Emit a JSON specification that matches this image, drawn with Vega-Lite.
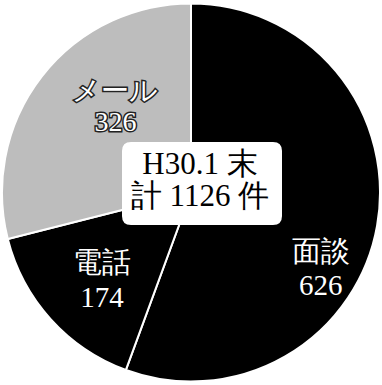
{
  "$schema": "https://vega.github.io/schema/vega-lite/v6.json",
  "width": 382,
  "height": 385,
  "autosize": {"type": "none"},
  "padding": 0,
  "background": "white",
  "view": {"stroke": null},
  "datasets": {
    "slices": [
      {"category": "面談", "value": 626, "label": "面談\n626", "n": 1},
      {"category": "電話", "value": 174, "label": "電話\n174", "n": 2},
      {"category": "メール", "value": 326, "label": "メール\n326", "n": 3}
    ],
    "center": [
      {"title": "H30.1 末\n計 1126 件"}
    ]
  },
  "layer": [
    {
      "data": {"name": "slices"},
      "mark": {"type": "arc", "outerRadius": 189, "stroke": "white", "strokeWidth": 2},
      "encoding": {
        "theta": {"field": "value", "type": "quantitative", "stack": true},
        "order": {"field": "n", "type": "quantitative"},
        "color": {
          "field": "category",
          "type": "nominal",
          "scale": {"domain": ["面談", "電話", "メール"], "range": ["#000000", "#000000", "#bdbdbd"]},
          "legend": null
        }
      }
    },
    {
      "data": {"name": "slices"},
      "mark": {"type": "text", "radius": 143, "dx": -11, "dy": 34, "font": "Liberation Serif", "fontSize": 29, "lineHeight": 34, "lineBreak": "\n", "fill": "white", "align": "center", "baseline": "middle"},
      "encoding": {
        "theta": {"field": "value", "type": "quantitative", "stack": true},
        "order": {"field": "n", "type": "quantitative"},
        "text": {"condition": {"test": "datum.category === '面談'", "field": "label", "type": "nominal"}, "value": ""}
      }
    },
    {
      "data": {"name": "slices"},
      "mark": {"type": "text", "radius": 124, "dx": 3, "dy": -13, "font": "Liberation Serif", "fontSize": 29, "lineHeight": 35, "lineBreak": "\n", "fill": "white", "align": "center", "baseline": "middle"},
      "encoding": {
        "theta": {"field": "value", "type": "quantitative", "stack": true},
        "order": {"field": "n", "type": "quantitative"},
        "text": {"condition": {"test": "datum.category === '電話'", "field": "label", "type": "nominal"}, "value": ""}
      }
    },
    {
      "data": {"name": "slices"},
      "mark": {"type": "text", "radius": 116, "dx": 16, "dy": -29, "font": "Liberation Serif", "fontSize": 28, "lineHeight": 31, "lineBreak": "\n", "fill": "white", "stroke": "#222222", "strokeWidth": 3, "align": "center", "baseline": "middle"},
      "encoding": {
        "theta": {"field": "value", "type": "quantitative", "stack": true},
        "order": {"field": "n", "type": "quantitative"},
        "text": {"condition": {"test": "datum.category === 'メール'", "field": "label", "type": "nominal"}, "value": ""}
      }
    },
    {
      "data": {"name": "slices"},
      "mark": {"type": "text", "radius": 116, "dx": 16, "dy": -29, "font": "Liberation Serif", "fontSize": 28, "lineHeight": 31, "lineBreak": "\n", "fill": "white", "align": "center", "baseline": "middle"},
      "encoding": {
        "theta": {"field": "value", "type": "quantitative", "stack": true},
        "order": {"field": "n", "type": "quantitative"},
        "text": {"condition": {"test": "datum.category === 'メール'", "field": "label", "type": "nominal"}, "value": ""}
      }
    },
    {
      "data": {"name": "center"},
      "mark": {
        "type": "point",
        "shape": "M-0.8875,-0.519 L0.8875,-0.519 Q1,-0.519 1,-0.4065 L1,0.4065 Q1,0.519 0.8875,0.519 L-0.8875,0.519 Q-1,0.519 -1,0.4065 L-1,-0.4065 Q-1,-0.519 -0.8875,-0.519 Z",
        "size": 25600,
        "filled": true,
        "fill": "white",
        "opacity": 1,
        "strokeWidth": 0,
        "xOffset": 11,
        "yOffset": -9
      },
      "encoding": {}
    },
    {
      "data": {"name": "center"},
      "mark": {"type": "text", "font": "Liberation Serif", "fontSize": 31, "lineHeight": 32, "lineBreak": "\n", "fill": "black", "align": "center", "baseline": "middle", "xOffset": 9, "yOffset": -28},
      "encoding": {
        "text": {"field": "title", "type": "nominal"}
      }
    }
  ]
}
